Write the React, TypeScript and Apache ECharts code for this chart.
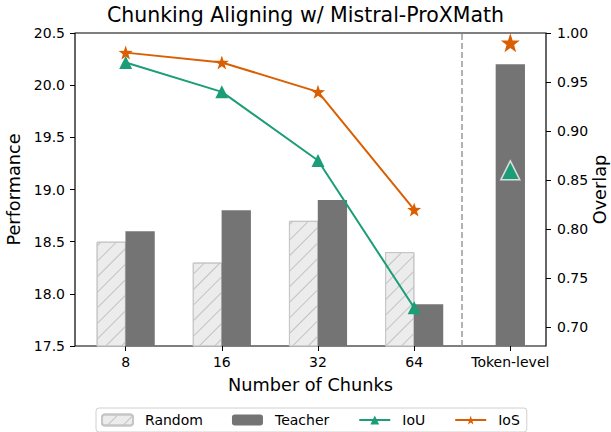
import React, { useEffect, useRef } from "react";
import * as echarts from "echarts";

const categories = ["8", "16", "32", "64", "Token-level"];
const randomPerf = [18.5, 18.3, 18.7, 18.4];
const teacherPerf = [18.6, 18.8, 18.9, 17.9, 20.2];
const iouValues = [0.97, 0.94, 0.87, 0.72, 0.86];
const iosValues = [0.98, 0.97, 0.94, 0.82, 0.99];
const perfTicks = [17.5, 18.0, 18.5, 19.0, 19.5, 20.0, 20.5];
const overlapTicks = [0.7, 0.75, 0.8, 0.85, 0.9, 0.95, 1.0];
const separatorPos = 3.5;

const GREEN = "#1b9e77";
const ORANGE = "#d95f02";
const FONT = "DejaVu Sans";
const STAR =
  "path://M0,-10 L2.35,-3.24 L9.51,-3.09 L3.8,1.24 L5.88,8.09 L0,4 L-5.88,8.09 L-3.8,1.24 L-9.51,-3.09 L-2.35,-3.24 Z";

export default function App() {
  const ref = useRef<HTMLDivElement>(null);
  useEffect(() => {
    if (!ref.current) return;
    const chart = echarts.init(ref.current, undefined, { renderer: "svg" });
    const nChunk = 4;
    const off = 0.15;
    const randomData = randomPerf.map((v, i) => [i - off, v]);
    const teacherData = teacherPerf.map((v, i) => [i < nChunk ? i + off : i, v]);
    const iouLine = iouValues.slice(0, nChunk).map((v, i) => [i, v]);
    const iosLine = iosValues.slice(0, nChunk).map((v, i) => [i, v]);
    const iouTok = [[nChunk, iouValues[nChunk]]];
    const iosTok = [[nChunk, iosValues[nChunk]]];

    chart.setOption({
      animation: false,
      textStyle: { fontFamily: FONT },
      title: {
        text: "Chunking Aligning w/ Mistral-ProXMath",
        left: "center",
        top: 4,
        padding: [0, 0, 0, 10],
        textStyle: { fontFamily: FONT, fontSize: 20.5, fontWeight: "normal", color: "#000" },
      },
      grid: {
        left: 75,
        right: 65,
        top: 33,
        bottom: 86,
        show: true,
        borderColor: "#000",
        borderWidth: 1.2,
        backgroundColor: "transparent",
        outerBoundsMode: "none",
        containLabel: false,
      },
      legend: {
        data: ["Random", "Teacher", "IoU", "IoS"],
        left: 96,
        top: 408,
        orient: "horizontal",
        itemWidth: 31,
        itemHeight: 11,
        itemGap: 29,
        padding: [5, 7, 5, 5],
        borderColor: "#d0d0d0",
        borderWidth: 1,
        borderRadius: 3,
        selectedMode: false,
        textStyle: { fontFamily: FONT, fontSize: 14, color: "#000", padding: [0, 0, 0, 7] },
      },
      xAxis: {
        type: "value",
        min: -0.527,
        max: 4.371,
        name: "Number of Chunks",
        nameLocation: "middle",
        nameGap: 30,
        nameMoveOverlap: false,
        nameTextStyle: { fontFamily: FONT, fontSize: 17.7, color: "#000" },
        splitLine: { show: false },
        axisLine: { show: false, onZero: false },
        axisTick: { show: true, length: 5, inside: false, customValues: [0, 1, 2, 3, 4], lineStyle: { color: "#000", width: 1 } },
        axisLabel: {
          customValues: [0, 1, 2, 3, 4],
          formatter: (v: number) => categories[Math.round(v)] ?? "",
          fontFamily: FONT,
          fontSize: 14,
          color: "#000",
          margin: 9,
        },
      },
      yAxis: [
        {
          type: "value",
          min: 17.5,
          max: 20.5,
          interval: 0.5,
          position: "left",
          name: "Performance",
          nameLocation: "middle",
          nameGap: 52,
          nameRotate: 90,
          nameMoveOverlap: false,
          nameTextStyle: { fontFamily: FONT, fontSize: 17.7, color: "#000" },
          splitLine: { show: false },
          axisLine: { show: false, onZero: false },
          axisTick: { show: true, length: 5, lineStyle: { color: "#000" }, customValues: perfTicks },
          axisLabel: {
            customValues: perfTicks,
            formatter: (v: number) => v.toFixed(1),
            fontFamily: FONT,
            fontSize: 14,
            color: "#000",
            margin: 10,
          },
        },
        {
          type: "value",
          min: 0.681,
          max: 1.0,
          position: "right",
          name: "Overlap",
          nameLocation: "middle",
          nameGap: 45,
          nameRotate: 90,
          nameMoveOverlap: false,
          nameTextStyle: { fontFamily: FONT, fontSize: 17.7, color: "#000" },
          splitLine: { show: false },
          axisLine: { show: false, onZero: false },
          axisTick: { show: true, length: 5, lineStyle: { color: "#000" }, customValues: overlapTicks },
          axisLabel: {
            customValues: overlapTicks,
            formatter: (v: number) => v.toFixed(2),
            fontFamily: FONT,
            fontSize: 14,
            color: "#000",
            margin: 11,
          },
        },
      ],
      series: [
        {
          name: "Random",
          type: "bar",
          yAxisIndex: 0,
          data: randomData,
          barWidth: 29.3,
          barGap: "-100%",
          itemStyle: {
            color: "#ececec",
            borderColor: "#c6c6c6",
            borderWidth: 1,
            decal: {
              symbol: "rect",
              symbolSize: 1,
              dashArrayX: [1, 0],
              dashArrayY: [1, 10],
              rotation: -Math.PI / 4,
              color: "#c2c2c2",
            },
          },
          z: 2,
        },
        {
          name: "Teacher",
          type: "bar",
          yAxisIndex: 0,
          data: teacherData,
          barWidth: 29.3,
          barGap: "-100%",
          itemStyle: { color: "#747474" },
          z: 2,
          markLine: {
            silent: true,
            symbol: "none",
            label: { show: false },
            lineStyle: { color: "#999", type: [6, 3], width: 1.5 },
            data: [{ xAxis: separatorPos }],
          },
        },
        {
          name: "IoU",
          type: "line",
          yAxisIndex: 1,
          data: iouLine,
          symbol: "triangle",
          symbolSize: 13,
          showSymbol: true,
          lineStyle: { color: GREEN, width: 2 },
          itemStyle: { color: GREEN },
          z: 5,
        },
        {
          name: "IoS",
          type: "line",
          yAxisIndex: 1,
          data: iosLine,
          symbol: STAR,
          symbolSize: 14,
          showSymbol: true,
          lineStyle: { color: ORANGE, width: 2 },
          itemStyle: { color: ORANGE },
          z: 5,
        },
        {
          name: "IoU token-level",
          type: "scatter",
          yAxisIndex: 1,
          data: iouTok,
          symbol: "triangle",
          symbolSize: 19,
          itemStyle: { color: GREEN, borderColor: "#dddddd", borderWidth: 1.5, opacity: 1 },
          z: 6,
        },
        {
          name: "IoS token-level",
          type: "scatter",
          yAxisIndex: 1,
          data: iosTok,
          symbol: STAR,
          symbolSize: 19,
          itemStyle: { color: ORANGE, opacity: 1 },
          z: 6,
        },
      ],
    });
    return () => chart.dispose();
  }, []);
  return (
    <div
      ref={ref}
      style={{ position: "fixed", left: 0, top: 0, width: 611, height: 432, background: "#fff" }}
    />
  );
}
